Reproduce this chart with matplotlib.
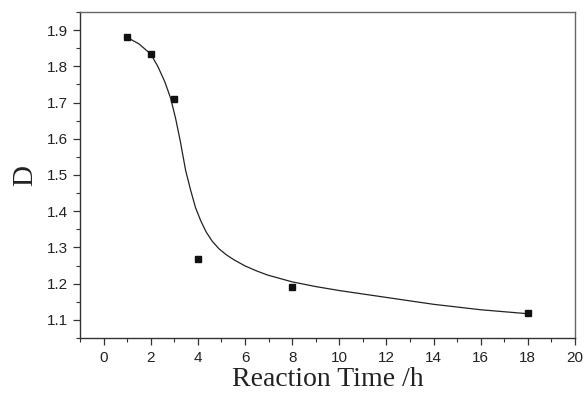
import matplotlib
matplotlib.use('Agg')
import matplotlib.pyplot as plt
from matplotlib.ticker import MultipleLocator

# measured points
time_h = [1, 2, 3, 4, 8, 18]
d_val = [1.880, 1.835, 1.709, 1.267, 1.192, 1.118]

# fitted curve
fit_x = [1.0, 1.5, 2.0, 2.3, 2.6, 2.85, 3.06, 3.25, 3.48, 3.69, 3.9, 4.12,
         4.35, 4.6, 4.9, 5.2, 5.53, 6.0, 6.5, 6.95, 7.5, 8.0, 9.0, 10.0,
         12.0, 14.0, 16.0, 18.0]
fit_y = [1.880, 1.862, 1.834, 1.800, 1.757, 1.711, 1.655, 1.595, 1.513,
         1.459, 1.410, 1.374, 1.343, 1.318, 1.296, 1.280, 1.266, 1.249,
         1.235, 1.224, 1.214, 1.205, 1.192, 1.181, 1.162, 1.143, 1.128, 1.117]

fig = plt.figure(figsize=(5.87, 3.94), dpi=100)
ax = fig.add_axes([80 / 587, 1 - 338 / 394, 495 / 587, 326 / 394])

ax.plot(fit_x, fit_y, '-', color='#222222', lw=0.9)
ax.plot(time_h, d_val, 's', color='#111111', ms=4.5)

ax.set_xlim(-1, 20)
ax.set_ylim(1.05, 1.95)
ax.xaxis.set_major_locator(MultipleLocator(2))
ax.xaxis.set_minor_locator(MultipleLocator(1))
ax.yaxis.set_major_locator(MultipleLocator(0.1))
ax.yaxis.set_minor_locator(MultipleLocator(0.05))

ax.tick_params(which='major', direction='out', length=5, width=0.9,
               labelsize=11, colors='#333333', labelcolor='#222222')
ax.tick_params(which='minor', direction='out', length=3, width=0.8,
               colors='#333333')
ax.tick_params(axis='x', pad=4)
ax.tick_params(axis='y', pad=4)
for lab in ax.get_xticklabels() + ax.get_yticklabels():
    lab.set_family('Liberation Sans')

for s in ax.spines.values():
    s.set_color('#666666')
    s.set_linewidth(1.0)
ax.spines['left'].set_color('#333333')
ax.spines['bottom'].set_color('#333333')

ax.set_xlabel('Reaction Time /h', family='Liberation Serif', fontsize=20,
              color='#222222', labelpad=2)
ax.set_ylabel('D', family='Liberation Serif', fontsize=21,
              color='#222222', labelpad=6)

fig.savefig('out.png', dpi=100)
